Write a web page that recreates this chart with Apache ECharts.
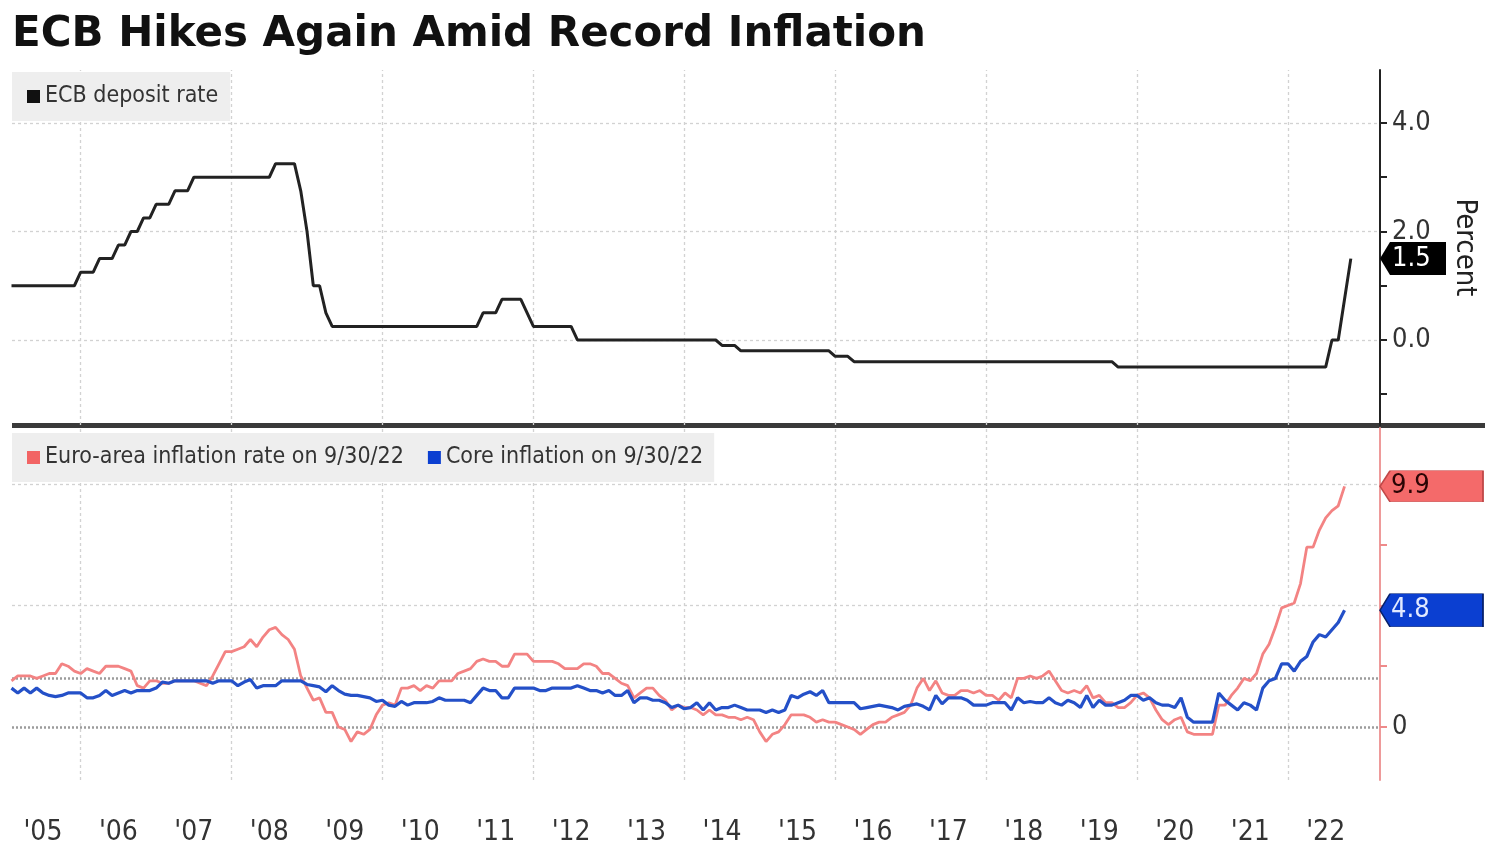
<!DOCTYPE html>
<html>
<head>
<meta charset="utf-8">
<script src="https://cdn.jsdelivr.net/npm/echarts@6/dist/echarts.min.js"></script>
<style>html,body{margin:0;padding:0;background:#fff}#c{width:1500px;height:850px}</style>
</head>
<body>
<div id="c"></div>
<script>
// ---------------- DATA ----------------
const START_YEAR = 2005; // monthly observations, first = end of Jan 2005

const depositRate = [
  1,1,1,1,1,1,1,1,1,1,1,1.25,                                   // 2005
  1.25,1.25,1.5,1.5,1.5,1.75,1.75,2,2,2.25,2.25,2.5,            // 2006
  2.5,2.5,2.75,2.75,2.75,3,3,3,3,3,3,3,                          // 2007
  3,3,3,3,3,3,3.25,3.25,3.25,3.25,2.75,2,                        // 2008
  1,1,0.5,0.25,0.25,0.25,0.25,0.25,0.25,0.25,0.25,0.25,          // 2009
  0.25,0.25,0.25,0.25,0.25,0.25,0.25,0.25,0.25,0.25,0.25,0.25,   // 2010
  0.25,0.25,0.25,0.5,0.5,0.5,0.75,0.75,0.75,0.75,0.5,0.25,       // 2011
  0.25,0.25,0.25,0.25,0.25,0.25,0,0,0,0,0,0,                     // 2012
  0,0,0,0,0,0,0,0,0,0,0,0,                                       // 2013
  0,0,0,0,0,-0.1,-0.1,-0.1,-0.2,-0.2,-0.2,-0.2,                  // 2014
  -0.2,-0.2,-0.2,-0.2,-0.2,-0.2,-0.2,-0.2,-0.2,-0.2,-0.2,-0.3,   // 2015
  -0.3,-0.3,-0.4,-0.4,-0.4,-0.4,-0.4,-0.4,-0.4,-0.4,-0.4,-0.4,   // 2016
  -0.4,-0.4,-0.4,-0.4,-0.4,-0.4,-0.4,-0.4,-0.4,-0.4,-0.4,-0.4,   // 2017
  -0.4,-0.4,-0.4,-0.4,-0.4,-0.4,-0.4,-0.4,-0.4,-0.4,-0.4,-0.4,   // 2018
  -0.4,-0.4,-0.4,-0.4,-0.4,-0.4,-0.4,-0.4,-0.5,-0.5,-0.5,-0.5,   // 2019
  -0.5,-0.5,-0.5,-0.5,-0.5,-0.5,-0.5,-0.5,-0.5,-0.5,-0.5,-0.5,   // 2020
  -0.5,-0.5,-0.5,-0.5,-0.5,-0.5,-0.5,-0.5,-0.5,-0.5,-0.5,-0.5,   // 2021
  -0.5,-0.5,-0.5,-0.5,-0.5,-0.5,0,0,0.75,1.5                      // 2022
];

const headlineInflation = [
  1.9,2.1,2.1,2.1,2.0,2.1,2.2,2.2,2.6,2.5,2.3,2.2,        // 2005
  2.4,2.3,2.2,2.5,2.5,2.5,2.4,2.3,1.7,1.6,1.9,1.9,        // 2006
  1.8,1.8,1.9,1.9,1.9,1.9,1.8,1.7,2.1,2.6,3.1,3.1,        // 2007
  3.2,3.3,3.6,3.3,3.7,4.0,4.1,3.8,3.6,3.2,2.1,1.6,        // 2008
  1.1,1.2,0.6,0.6,0.0,-0.1,-0.6,-0.2,-0.3,-0.1,0.5,0.9,   // 2009
  1.0,0.9,1.6,1.6,1.7,1.5,1.7,1.6,1.9,1.9,1.9,2.2,        // 2010
  2.3,2.4,2.7,2.8,2.7,2.7,2.5,2.5,3.0,3.0,3.0,2.7,        // 2011
  2.7,2.7,2.7,2.6,2.4,2.4,2.4,2.6,2.6,2.5,2.2,2.2,        // 2012
  2.0,1.8,1.7,1.2,1.4,1.6,1.6,1.3,1.1,0.7,0.9,0.8,        // 2013
  0.8,0.7,0.5,0.7,0.5,0.5,0.4,0.4,0.3,0.4,0.3,-0.2,       // 2014
  -0.6,-0.3,-0.2,0.1,0.5,0.5,0.5,0.4,0.2,0.3,0.2,0.2,     // 2015
  0.1,0.0,-0.1,-0.3,-0.1,0.1,0.2,0.2,0.4,0.5,0.6,0.9,     // 2016
  1.6,2.0,1.5,1.9,1.4,1.3,1.3,1.5,1.5,1.4,1.5,1.3,        // 2017
  1.3,1.1,1.4,1.2,2.0,2.0,2.1,2.0,2.1,2.3,1.9,1.5,        // 2018
  1.4,1.5,1.4,1.7,1.2,1.3,1.0,1.0,0.8,0.8,1.0,1.3,        // 2019
  1.4,1.2,0.7,0.3,0.1,0.3,0.4,-0.2,-0.3,-0.3,-0.3,-0.3,   // 2020
  0.9,0.9,1.3,1.6,2.0,1.9,2.2,3.0,3.4,4.1,4.9,5.0,        // 2021
  5.1,5.9,7.4,7.4,8.1,8.6,8.9,9.1,9.9                     // 2022
];

const coreInflation = [
  1.6,1.4,1.6,1.4,1.6,1.4,1.3,1.25,1.3,1.4,1.4,1.4,       // 2005
  1.2,1.2,1.3,1.5,1.3,1.4,1.5,1.4,1.5,1.5,1.5,1.6,        // 2006
  1.85,1.8,1.9,1.9,1.9,1.9,1.9,1.9,1.8,1.9,1.9,1.9,       // 2007
  1.7,1.85,1.95,1.6,1.7,1.7,1.7,1.9,1.9,1.9,1.9,1.75,     // 2008
  1.7,1.65,1.45,1.7,1.5,1.35,1.3,1.3,1.25,1.2,1.05,1.1,   // 2009
  0.9,0.85,1.05,0.9,1.0,1.0,1.0,1.05,1.2,1.1,1.1,1.1,     // 2010
  1.1,1.0,1.3,1.6,1.5,1.5,1.2,1.2,1.6,1.6,1.6,1.6,        // 2011
  1.5,1.5,1.6,1.6,1.6,1.6,1.7,1.6,1.5,1.5,1.4,1.5,        // 2012
  1.3,1.3,1.5,1.0,1.2,1.2,1.1,1.1,1.0,0.8,0.9,0.75,       // 2013
  0.8,1.0,0.7,1.0,0.7,0.8,0.8,0.9,0.8,0.7,0.7,0.7,        // 2014
  0.6,0.7,0.6,0.7,1.3,1.2,1.35,1.45,1.3,1.5,1.0,1.0,      // 2015
  1.0,1.0,1.0,0.75,0.8,0.85,0.9,0.85,0.8,0.7,0.85,0.9,    // 2016
  0.95,0.85,0.7,1.3,0.95,1.2,1.2,1.2,1.1,0.9,0.9,0.9,     // 2017
  1.0,1.0,1.0,0.7,1.2,1.0,1.05,1.0,1.0,1.2,1.0,0.9,       // 2018
  1.1,1.0,0.8,1.3,0.8,1.1,0.9,0.9,1.0,1.1,1.3,1.3,        // 2019
  1.1,1.2,1.0,0.9,0.9,0.8,1.2,0.4,0.2,0.2,0.2,0.2,        // 2020
  1.4,1.1,0.9,0.7,1.0,0.9,0.7,1.6,1.9,2.0,2.6,2.6,        // 2021
  2.3,2.7,2.9,3.5,3.8,3.7,4.0,4.3,4.8                     // 2022
];

const yearLabels = ["'05","'06","'07","'08","'09","'10","'11","'12","'13","'14","'15","'16","'17","'18","'19","'20","'21","'22"];
const labelPositions = [2005.5,2006.5,2007.5,2008.5,2009.5,2010.5,2011.5,2012.5,2013.5,2014.5,2015.5,2016.5,2017.5,2018.5,2019.5,2020.5,2021.5,2022.5];
const gridYears = [2006,2008,2010,2012,2014,2016,2018,2020,2022];
const rateLabelTicks = [0, 2, 4];
const rateMinorTicks = [-1, 0, 1, 2, 3, 4];
const inflLabelTicks = [0];
const inflTicks = [0, 2.5, 5, 7.5, 10];

// ---------------- CHART ----------------
const X_MIN = 2005.09, X_MAX = 2023.22;
const Y1_MIN = -1.567, Y1_MAX = 4.977;
const Y2_MIN = -2.18, Y2_MAX = 12.3;
const FONT = "'DejaVu Sans Condensed','Liberation Sans Narrow','DejaVu Sans',sans-serif";

const toXY = arr => arr.map((v, i) => [START_YEAR + (i + 1) / 12, v]);
const last = arr => arr[arr.length - 1];
const TAG_X = X_MAX - 0.0001;

const lightGrid = { color: '#d2d2d2', type: [3, 3], width: 1.3 };
const darkGrid = { color: '#9c9c9c', type: [2, 2], width: 2.5 };
const vLines = gridYears.map(y => ({ xAxis: y, lineStyle: lightGrid }));

const chart = echarts.init(document.getElementById('c'));
chart.setOption({
  animation: false,
  backgroundColor: '#fff',
  textStyle: { fontFamily: FONT },
  title: {
    text: 'ECB Hikes Again Amid Record Inflation',
    left: 12, top: 14, padding: 0,
    textStyle: { fontFamily: "'DejaVu Sans',sans-serif", fontWeight: 'bold', fontSize: 42, color: '#111' }
  },
  legend: [
    {
      data: ['ECB deposit rate'],
      left: 12, top: 72, padding: [13, 12, 13, 15],
      backgroundColor: '#eeeeee', icon: 'rect', itemWidth: 13, itemHeight: 13,
      textStyle: { fontSize: 23, color: '#333', fontFamily: FONT }, selectedMode: false
    },
    {
      data: ['Euro-area inflation rate on 9/30/22', 'Core inflation on 9/30/22'],
      left: 12, top: 433, padding: [13, 11, 13, 15], itemGap: 24,
      backgroundColor: '#eeeeee', icon: 'rect', itemWidth: 13, itemHeight: 13,
      textStyle: { fontSize: 23, color: '#333', fontFamily: FONT }, selectedMode: false
    }
  ],
  grid: [
    { left: 12, right: 120, top: 70, height: 355, outerBoundsMode: 'none' },
    { left: 12, right: 120, top: 428, height: 352, outerBoundsMode: 'none' }
  ],
  xAxis: [
    { type: 'value', gridIndex: 0, min: X_MIN, max: X_MAX, show: false, axisLine: { onZero: false }, splitLine: { show: false } },
    {
      type: 'value', gridIndex: 1, min: X_MIN, max: X_MAX,
      axisLine: { show: false, onZero: false }, axisTick: { show: false }, splitLine: { show: false },
      axisLabel: {
        customValues: labelPositions,
        formatter: v => yearLabels[labelPositions.indexOf(v)],
        margin: 39, fontSize: 28, color: '#333', fontFamily: FONT
      }
    }
  ],
  yAxis: [
    {
      type: 'value', gridIndex: 0, position: 'right', min: Y1_MIN, max: Y1_MAX,
      axisLine: { show: true, onZero: false, lineStyle: { color: '#222', width: 2 } },
      axisTick: { show: true, customValues: rateMinorTicks, length: 7, lineStyle: { color: '#222', width: 2 } },
      axisLabel: { customValues: rateLabelTicks, formatter: v => v.toFixed(1), margin: 12, fontSize: 27, color: '#333', fontFamily: FONT },
      splitLine: { show: false },
      name: 'Percent', nameLocation: 'middle', nameRotate: -90, nameGap: 70,
      nameTextStyle: { fontSize: 29, color: '#222', fontFamily: FONT }
    },
    {
      type: 'value', gridIndex: 1, position: 'right', min: Y2_MIN, max: Y2_MAX,
      axisLine: { show: true, onZero: false, lineStyle: { color: '#ee9a9a', width: 2 } },
      axisTick: { show: true, customValues: inflTicks, length: 7, lineStyle: { color: '#ee8a8a', width: 2 } },
      axisLabel: { customValues: inflLabelTicks, formatter: v => String(v), margin: 12, fontSize: 27, color: '#333', fontFamily: FONT },
      splitLine: { show: false }
    }
  ],
  graphic: [
    { type: 'rect', shape: { x: 12, y: 423, width: 1473, height: 5 }, style: { fill: '#3a3a3a' }, silent: true }
  ],
  series: [
    {
      name: 'ECB deposit rate', type: 'line', xAxisIndex: 0, yAxisIndex: 0,
      data: toXY(depositRate), showSymbol: false, symbol: 'none',
      color: '#111', lineStyle: { color: '#222', width: 3 }, z: 3,
      markLine: {
        silent: true, symbol: 'none', z: 1, label: { show: false }, animation: false,
        lineStyle: lightGrid,
        data: vLines.concat([{ yAxis: 4, lineStyle: lightGrid }, { yAxis: 2, lineStyle: lightGrid }, { yAxis: 0, lineStyle: lightGrid }])
      },
      markPoint: {
        silent: true, animation: false,
        symbol: 'path://M0,16.5L10,0L66,0L66,33L10,33Z', symbolSize: [66, 33], symbolOffset: ['50%', 0],
        itemStyle: { color: '#000' },
        label: { show: true, position: 'insideLeft', distance: 12, color: '#fff', fontSize: 27, fontFamily: FONT, formatter: '{c}' },
        data: [{ coord: [TAG_X, last(depositRate)], value: last(depositRate).toFixed(1) }]
      }
    },
    {
      name: 'Euro-area inflation rate on 9/30/22', type: 'line', xAxisIndex: 1, yAxisIndex: 1,
      data: toXY(headlineInflation), showSymbol: false, symbol: 'none',
      color: '#f26464', lineStyle: { color: '#f38383', width: 2.8 }, z: 3,
      markLine: {
        silent: true, symbol: 'none', z: 1, label: { show: false }, animation: false,
        lineStyle: lightGrid,
        data: vLines.concat([{ yAxis: 10, lineStyle: lightGrid }, { yAxis: 5, lineStyle: lightGrid }, { yAxis: 2, lineStyle: darkGrid }, { yAxis: 0, lineStyle: darkGrid }])
      },
      markPoint: {
        silent: true, animation: false,
        symbol: 'path://M0,15.5L10,0L103,0L103,31L10,31Z', symbolSize: [103, 31], symbolOffset: ['50%', 0],
        itemStyle: { color: '#f46a6a', borderColor: '#c04848', borderWidth: 1 },
        label: { show: true, position: 'insideLeft', distance: 12, color: '#2a0505', fontSize: 27, fontFamily: FONT, formatter: '{c}' },
        data: [{ coord: [TAG_X, last(headlineInflation)], value: last(headlineInflation).toFixed(1) }]
      }
    },
    {
      name: 'Core inflation on 9/30/22', type: 'line', xAxisIndex: 1, yAxisIndex: 1,
      data: toXY(coreInflation), showSymbol: false, symbol: 'none',
      color: '#0b3fd1', lineStyle: { color: '#2450c8', width: 3.2 }, z: 4,
      markPoint: {
        silent: true, animation: false,
        symbol: 'path://M0,16.5L10,0L103,0L103,33L10,33Z', symbolSize: [103, 33], symbolOffset: ['50%', 0],
        itemStyle: { color: '#0b3fd1', borderColor: '#06206a', borderWidth: 1 },
        label: { show: true, position: 'insideLeft', distance: 12, color: '#e2e9ff', fontSize: 27, fontFamily: FONT, formatter: '{c}' },
        data: [{ coord: [TAG_X, last(coreInflation)], value: last(coreInflation).toFixed(1) }]
      }
    }
  ]
});
</script>
</body>
</html>
